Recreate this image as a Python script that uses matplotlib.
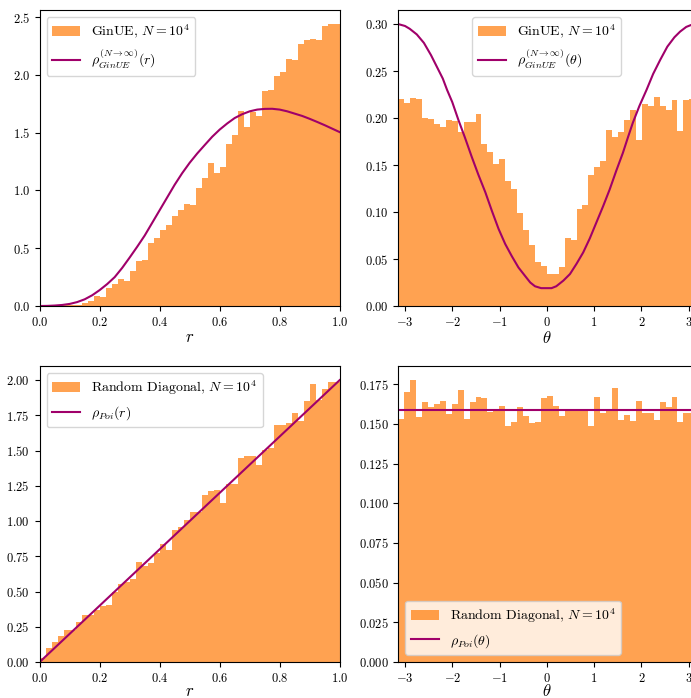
import numpy as np
import matplotlib
matplotlib.use('Agg')
import matplotlib.pyplot as plt
from matplotlib.ticker import FuncFormatter

# --- フォント設定 (Computer Modern 風) ---
plt.rcParams.update({
    'font.family': 'serif',
    'font.serif': ['cmr10'],
    'mathtext.fontset': 'cm',
    'axes.unicode_minus': False,
    'axes.formatter.use_mathtext': True,
    'xtick.labelsize': 9,
    'ytick.labelsize': 9,
    'legend.fontsize': 10,
})

# --- データ ---
N_BINS = 50
r_edges = np.linspace(0.0, 1.0, N_BINS + 1)
theta_edges = np.linspace(-np.pi, np.pi, N_BINS + 1)

# GinUE: 半径方向のヒストグラム (density)
ginue_r_hist = [
    0.000, 0.004, 0.006, 0.006, 0.008, 0.006, 0.010, 0.026, 0.043, 0.089,
    0.078, 0.160, 0.190, 0.233, 0.216, 0.303, 0.390, 0.398, 0.545, 0.588,
    0.657, 0.700, 0.778, 0.830, 0.882, 0.874, 1.021, 1.107, 1.237, 1.150,
    1.205, 1.401, 1.479, 1.690, 1.546, 1.681, 1.644, 1.860, 1.868, 1.990,
    2.024, 2.134, 2.128, 2.266, 2.301, 2.307, 2.301, 2.422, 2.437, 2.440,
]
# 理論曲線 rho_GinUE(r)
ginue_r_x = [0.000, 0.025, 0.050, 0.075, 0.100, 0.125, 0.150, 0.175, 0.200, 0.225,
             0.250, 0.275, 0.300, 0.325, 0.350, 0.375, 0.400, 0.425, 0.450, 0.475,
             0.500, 0.525, 0.550, 0.575, 0.600, 0.625, 0.650, 0.675, 0.700, 0.725,
             0.750, 0.775, 0.800, 0.825, 0.850, 0.875, 0.900, 0.925, 0.950, 0.975,
             1.000]
ginue_r_y = [0.000, 0.001, 0.004, 0.009, 0.018, 0.034, 0.058, 0.093, 0.138, 0.190,
             0.250, 0.330, 0.420, 0.513, 0.610, 0.720, 0.830, 0.940, 1.050, 1.150,
             1.240, 1.320, 1.393, 1.465, 1.527, 1.580, 1.627, 1.660, 1.685, 1.700,
             1.706, 1.707, 1.700, 1.685, 1.665, 1.645, 1.620, 1.593, 1.565, 1.535,
             1.505]

# GinUE: 角度方向のヒストグラム
ginue_theta_hist = [
    0.2207, 0.2157, 0.2218, 0.2203, 0.2005, 0.1991, 0.1941, 0.1902, 0.1984, 0.1973,
    0.1856, 0.1955, 0.1960, 0.2047, 0.1729, 0.1637, 0.1509, 0.1569, 0.1325, 0.1240,
    0.0985, 0.0811, 0.0645, 0.0471, 0.0425, 0.0337, 0.0337, 0.0414, 0.0719, 0.0701,
    0.1027, 0.1080, 0.1392, 0.1477, 0.1548, 0.1877, 0.1796, 0.1849, 0.1984, 0.2090,
    0.1771, 0.2150, 0.2125, 0.2225, 0.2132, 0.2090, 0.2196, 0.1867, 0.2196, 0.2200,
]
ginue_theta_x = [-3.1416, -3.00, -2.90, -2.75, -2.60, -2.45, -2.30, -2.20, -2.11, -2.00,
                 -1.87, -1.73, -1.59, -1.45, -1.30, -1.16, -1.02, -0.88, -0.74, -0.60,
                 -0.46, -0.35, -0.25, -0.12, 0.00, 0.10, 0.20, 0.35, 0.49, 0.63,
                 0.77, 0.91, 1.05, 1.19, 1.33, 1.47, 1.61, 1.72, 1.82, 1.96,
                 2.11, 2.25, 2.40, 2.55, 2.70, 2.82, 2.95, 3.05, 3.1416]
ginue_theta_y = [0.300, 0.298, 0.295, 0.289, 0.280, 0.267, 0.252, 0.242, 0.230, 0.217,
                 0.198, 0.179, 0.159, 0.140, 0.121, 0.101, 0.082, 0.066, 0.053, 0.041,
                 0.032, 0.025, 0.021, 0.019, 0.019, 0.019, 0.021, 0.027, 0.034, 0.045,
                 0.057, 0.072, 0.089, 0.106, 0.124, 0.144, 0.163, 0.180, 0.195, 0.213,
                 0.230, 0.247, 0.262, 0.276, 0.286, 0.292, 0.297, 0.299, 0.300]

# Random Diagonal: 半径方向
poi_r_hist = [
    0.031, 0.099, 0.142, 0.184, 0.227, 0.227, 0.284, 0.333, 0.333, 0.369,
    0.397, 0.404, 0.499, 0.550, 0.565, 0.589, 0.709, 0.681, 0.702, 0.771,
    0.837, 0.794, 0.936, 0.955, 1.007, 1.061, 1.064, 1.184, 1.213, 1.220,
    1.130, 1.262, 1.262, 1.444, 1.461, 1.461, 1.397, 1.504, 1.515, 1.681,
    1.681, 1.693, 1.764, 1.712, 1.851, 1.972, 1.858, 1.934, 1.988, 1.990,
]
poi_r_x = [0.0, 1.0]
poi_r_y = [0.0, 2.0]

# Random Diagonal: 角度方向
poi_theta_hist = [
    0.1530, 0.1700, 0.1776, 0.1543, 0.1637, 0.1604, 0.1625, 0.1644, 0.1564, 0.1625,
    0.1713, 0.1530, 0.1637, 0.1669, 0.1662, 0.1576, 0.1581, 0.1612, 0.1486, 0.1513,
    0.1606, 0.1549, 0.1507, 0.1513, 0.1662, 0.1675, 0.1612, 0.1549, 0.1593, 0.1593,
    0.1593, 0.1593, 0.1486, 0.1669, 0.1568, 0.1593, 0.1725, 0.1524, 0.1555, 0.1518,
    0.1644, 0.1568, 0.1568, 0.1524, 0.1637, 0.1606, 0.1669, 0.1511, 0.1568, 0.1570,
]
poi_theta_x = [-np.pi, np.pi]
poi_theta_y = [0.159, 0.159]

HIST_COLOR = '#ff7f0e'
LINE_COLOR = '#a0006a'

# --- グラフ描画 ---
W, H = 691, 698
fig = plt.figure(figsize=(W / 100, H / 100), dpi=100)

def px_axes(left, top, right, bottom):
    return fig.add_axes([left / W, 1 - bottom / H, (right - left) / W, (bottom - top) / H])

ax_tl = px_axes(39.7, 10, 339.7, 306)
ax_tr = px_axes(398.3, 10, 695.3, 306)
ax_bl = px_axes(39.7, 366, 339.7, 662)
ax_br = px_axes(398.3, 366, 695.3, 662)

def fmt(digits):
    return FuncFormatter(lambda v, p: f'${v:.{digits}f}$')

def draw(ax, edges, hist, lx, ly, hist_label, line_label, loc):
    h = ax.hist(edges[:-1], bins=edges, weights=hist, color=HIST_COLOR, alpha=0.72,
                label=hist_label)
    line, = ax.plot(lx, ly, color=LINE_COLOR, lw=1.5, label=line_label)
    ax.legend([h[2][0], line], [hist_label, line_label], loc=loc)

draw(ax_tl, r_edges, ginue_r_hist, ginue_r_x, ginue_r_y,
     r'GinUE, $N=10^4$', r'$\rho^{(N\to\infty)}_{GinUE}(r)$', 'upper left')
draw(ax_tr, theta_edges, ginue_theta_hist, ginue_theta_x, ginue_theta_y,
     r'GinUE, $N=10^4$', r'$\rho^{(N\to\infty)}_{GinUE}(\theta)$', 'upper center')
draw(ax_bl, r_edges, poi_r_hist, poi_r_x, poi_r_y,
     r'Random Diagonal, $N=10^4$', r'$\rho_{Poi}(r)$', 'upper left')
draw(ax_br, theta_edges, poi_theta_hist, poi_theta_x, poi_theta_y,
     r'Random Diagonal, $N=10^4$', r'$\rho_{Poi}(\theta)$', 'lower left')

# 下段はラベルが下端に近いので少し詰める
for ax, pad in ((ax_tl, 1), (ax_bl, -1)):
    ax.set_xlim(0, 1)
    ax.set_xlabel(r'$r$', fontsize=12, labelpad=pad)
    ax.xaxis.set_major_formatter(fmt(1))
for ax, pad in ((ax_tr, 1), (ax_br, -1)):
    ax.set_xlim(-np.pi, np.pi)
    ax.set_xlabel(r'$\theta$', fontsize=12, labelpad=pad)
    ax.xaxis.set_major_formatter(fmt(0))

ax_tl.yaxis.set_major_formatter(fmt(1))
ax_tr.yaxis.set_major_formatter(fmt(2))
ax_bl.yaxis.set_major_formatter(fmt(2))
ax_br.yaxis.set_major_formatter(fmt(3))

fig.savefig('out.png', dpi=100)
